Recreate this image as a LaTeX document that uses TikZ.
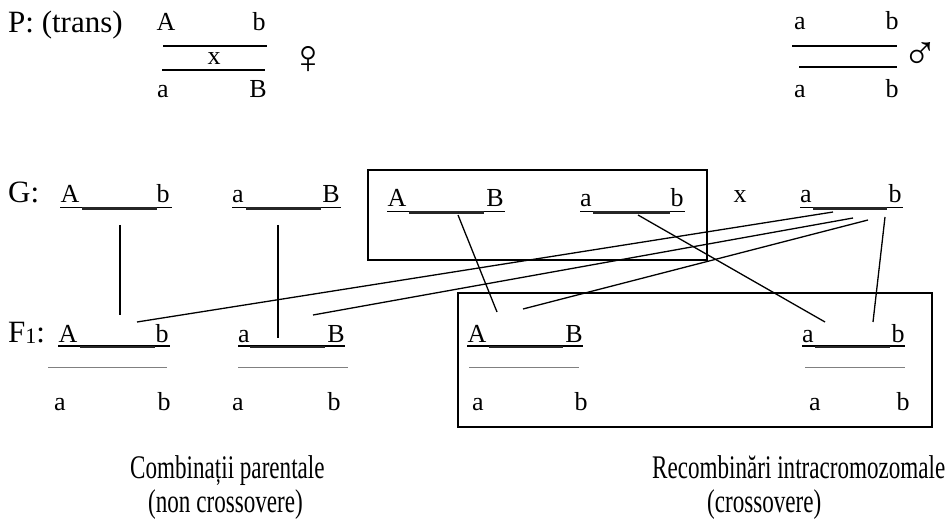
\documentclass[tikz,border=0pt]{standalone}
\usepackage{fontspec}
\setmainfont{Liberation Serif}
\newcommand\genefont{\fontsize{26}{30}\selectfont}
\newcommand\lblfont{\fontsize{31}{36}\selectfont}
\newcommand\capfont{\fontsize{33}{38}\selectfont}
\newcommand\sexfont{\fontsize{48}{50}\selectfont}
\newcommand\squeeze[1]{\scalebox{0.7}[1]{#1}}
\tikzset{
  gene/.style={font=\genefont, inner sep=0pt, anchor=base},
  lbl/.style={font=\lblfont, inner sep=0pt, anchor=base west},
  captext/.style={font=\capfont, inner sep=0pt, anchor=base west},
  sex/.style={font=\sexfont, inner sep=0pt, anchor=center},
  chromline/.style={line width=1.4pt},
  uline/.style={line width=1.3pt},
  bar/.style={line width=2.6pt, black!85},
  homolog/.style={line width=0.9pt, gray},
  link/.style={line width=1.3pt},
  frame/.style={line width=1.5pt},
}
\begin{document}
\begin{tikzpicture}[x=1pt,y=-1pt]
\useasboundingbox (0,0) rectangle (945,521);

% ---------- parents ----------
\node[lbl] (Plbl) at (8,33) {P: (trans)};
% female, trans configuration
\node[gene] (fA) at (166,31) {A};
\node[gene] (fb) at (259,31) {b};
\draw[chromline] (163,46) -- (267,46);
\node[gene] (fx) at (214,65) {x};
\draw[chromline] (162,70) -- (265,70);
\node[gene] (fa) at (163,98) {a};
\node[gene] (fB) at (258,98) {B};
\node[sex] (fem) at (308,60) {♀};
% male, homozygous recessive
\node[gene] (ma1) at (800,30) {a};
\node[gene] (mb1) at (892,30) {b};
\draw[chromline] (792,46) -- (897,46);
\draw[chromline] (799,67) -- (897,67);
\node[gene] (ma2) at (800,98) {a};
\node[gene] (mb2) at (892,98) {b};
\node[sex] (mal) at (920,56) {♂};

% ---------- gametes ----------
\node[lbl] (Glbl) at (8,203) {G:};
% parental gametes
\node[gene] (g1A) at (70,203) {A};
\node[gene] (g1b) at (163,203) {b};
\draw[uline] (60,207.5) -- (172,207.5);
\draw[bar] (82,208.3) -- (157,208.3);
\node[gene] (g2a) at (238,203) {a};
\node[gene] (g2B) at (331,203) {B};
\draw[uline] (232,207.5) -- (341,207.5);
\draw[bar] (246,208.3) -- (321,208.3);
% recombinant gametes
\draw[frame] (368,170) rectangle (707,260);
\node[gene] (g3A) at (397,207) {A};
\node[gene] (g3B) at (495,207) {B};
\draw[uline] (387,211.5) -- (505,211.5);
\draw[bar] (409,212.3) -- (484,212.3);
\node[gene] (g4a) at (586,207) {a};
\node[gene] (g4b) at (677,207) {b};
\draw[uline] (580,211.5) -- (685,211.5);
\draw[bar] (593,212.3) -- (670,212.3);
\node[gene] (gx) at (740,203) {x};
% male gamete
\node[gene] (g5a) at (806,203) {a};
\node[gene] (g5b) at (895,203) {b};
\draw[uline] (800,207.5) -- (903,207.5);
\draw[bar] (813,208.3) -- (887,208.3);

% ---------- F1 ----------
\node[lbl] (Flbl) at (8,342) {F\raisebox{-0.12ex}{\fontsize{22}{22}\selectfont 1}:};
\node[gene] (h1A) at (68,342) {A};
\node[gene] (h1b) at (162,342) {b};
\draw[uline] (58,346) -- (170,346);
\draw[bar] (80,346.8) -- (155,346.8);
\draw[homolog] (48,367) -- (167,367);
\node[gene] (h1a) at (60,410) {a};
\node[gene] (h1b2) at (164,410) {b};

\node[gene] (h2a) at (244,342) {a};
\node[gene] (h2B) at (336,342) {B};
\draw[uline] (238,346) -- (345,346);
\draw[bar] (250,346.8) -- (325,346.8);
\draw[homolog] (238,367) -- (348,367);
\node[gene] (h2a2) at (238,410) {a};
\node[gene] (h2b) at (334,410) {b};

\draw[frame] (458,293) rectangle (932,427);
\node[gene] (h3A) at (477,342) {A};
\node[gene] (h3B) at (574,342) {B};
\draw[uline] (467,346) -- (583,346);
\draw[bar] (489,346.8) -- (563,346.8);
\draw[homolog] (469,367) -- (579,367);
\node[gene] (h3a) at (478,410) {a};
\node[gene] (h3b) at (581,410) {b};

\node[gene] (h4a) at (808,342) {a};
\node[gene] (h4b) at (898,342) {b};
\draw[uline] (802,346) -- (905,346);
\draw[bar] (815,346.8) -- (890,346.8);
\draw[homolog] (805,367) -- (905,367);
\node[gene] (h4a2) at (815,410) {a};
\node[gene] (h4b2) at (903,410) {b};

% ---------- connector ends ----------
\coordinate (g1o) at (120,225);
\coordinate (g2o) at (278,225);
\coordinate (g3o) at (458,215);
\coordinate (g4o) at (638,215);
\coordinate (g5o1) at (833,212);
\coordinate (g5o2) at (853,218);
\coordinate (g5o3) at (868,220);
\coordinate (g5o4) at (885,217);
\coordinate (h1i1) at (120,315);
\coordinate (h1i2) at (137,322);
\coordinate (h2i1) at (278,338);
\coordinate (h2i2) at (313,315);
\coordinate (h3i1) at (497,312);
\coordinate (h3i2) at (523,309);
\coordinate (h4i1) at (825,322);
\coordinate (h4i2) at (873,322);

\draw[link] (g1o) -- (h1i1);
\draw[link] (g2o) -- (h2i1);
\draw[link] (g3o) -- (h3i1);
\draw[link] (g4o) -- (h4i1);
\draw[link] (g5o1) -- (h1i2);
\draw[link] (g5o2) -- (h2i2);
\draw[link] (g5o3) -- (h3i2);
\draw[link] (g5o4) -- (h4i2);

% ---------- captions ----------
\node[captext] (par1) at (130,478) {\squeeze{Combinații parentale}};
\node[captext] (par2) at (148,512) {\squeeze{(non crossovere)}};
\node[captext] (rec1) at (652,478) {\squeeze{Recombinări intracromozomale}};
\node[captext] (rec2) at (707,512) {\squeeze{(crossovere)}};
\end{tikzpicture}
\end{document}
